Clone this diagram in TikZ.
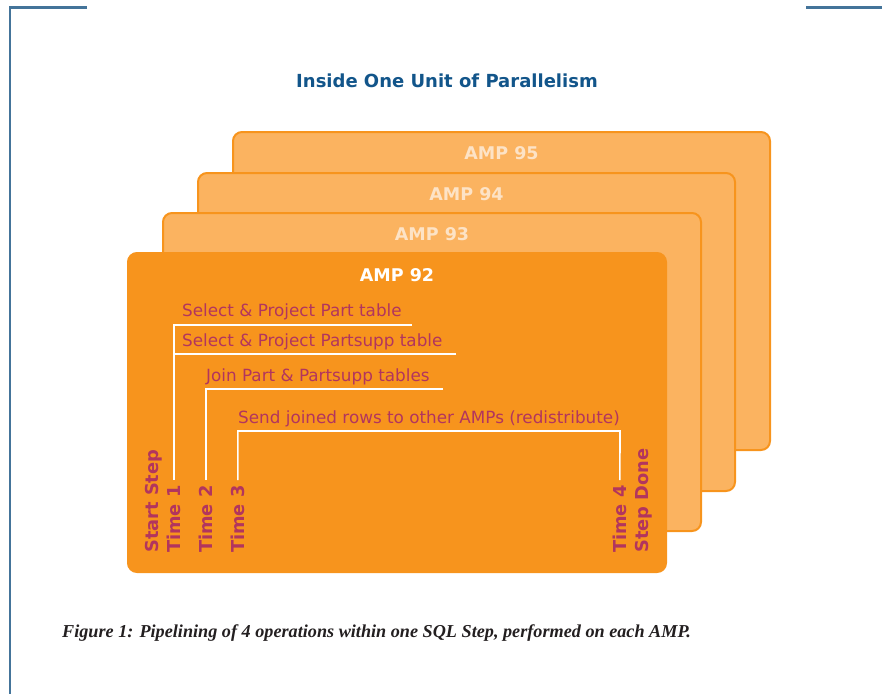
\documentclass[tikz,border=0pt]{standalone}
\usepackage{fontspec}
\setmainfont{DejaVu Sans}
\newfontfamily\captionserif{Liberation Serif}
\usetikzlibrary{calc}

\definecolor{frameblue}{HTML}{44749A}
\definecolor{titleblue}{HTML}{12558A}
\definecolor{ampdark}{HTML}{F7941D}
\definecolor{amplight}{HTML}{FBB360}
\definecolor{amppale}{HTML}{FDE3C6}
\definecolor{opred}{HTML}{B2355E}
\definecolor{captiongray}{HTML}{231F20}

\tikzset{
  frameline/.style={draw=frameblue, line width=2.6pt},
  backcard/.style={rectangle, rounded corners=9pt, draw=ampdark, line width=2pt,
    fill=amplight, inner sep=0pt, anchor=north west},
  frontcard/.style={backcard, fill=ampdark},
  amplabel/.style={font=\bfseries\fontsize{17.5}{20}\selectfont, text=amppale, inner sep=0pt},
  frontlabel/.style={amplabel, text=white},
  oplabel/.style={font=\fontsize{16.8}{19}\selectfont, text=opred, anchor=base west, inner sep=0pt},
  timelabel/.style={font=\bfseries\fontsize{17.8}{20}\selectfont, text=opred, rotate=90,
    anchor=base west, inner sep=0pt},
  pipe/.style={draw=white, line width=1.6pt},
}

\begin{document}
\begin{tikzpicture}[x=1pt, y=-1pt]
\useasboundingbox (0,0) rectangle (882,694);

% page frame corners
\draw[frameline] (87,7.3) -- (10,7.3) -- (10,694);
\draw[frameline] (806,7.3) -- (882,7.3);

% title
\node[font=\bfseries\fontsize{18}{21}\selectfont, text=titleblue] (title) at (447,81)
  {Inside One Unit of Parallelism};

% stack of AMP cards, back to front
\node[backcard, minimum width=537pt, minimum height=318pt] (amp95) at (232,131) {};
\node[amplabel] (lab95) at ($(amp95.north)+(0,22)$) {AMP 95};
\node[backcard, minimum width=537pt, minimum height=318pt] (amp94) at (197,172) {};
\node[amplabel] (lab94) at ($(amp94.north)+(0,22)$) {AMP 94};
\node[backcard, minimum width=538pt, minimum height=318pt] (amp93) at (162,212) {};
\node[amplabel] (lab93) at ($(amp93.north)+(0,22)$) {AMP 93};
\node[frontcard, minimum width=538pt, minimum height=319pt] (amp92) at (127,252) {};
\node[frontlabel] (lab92) at ($(amp92.north)+(0,23)$) {AMP 92};

% operations
\node[oplabel] (op1) at (182,316.5) {Select \& Project Part table};
\node[oplabel] (op2) at (182,346.5) {Select \& Project Partsupp table};
\node[oplabel] (op3) at (206,381.5) {Join Part \& Partsupp tables};
\node[oplabel] (op4) at (238,423.5) {Send joined rows to other AMPs (redistribute)};

% time marks
\node[timelabel] (start) at (158.5,553) {Start Step};
\node[timelabel] (time1) at (180.5,553) {Time 1};
\node[timelabel] (time2) at (212.5,553) {Time 2};
\node[timelabel] (time3) at (244.5,553) {Time 3};
\node[timelabel] (time4) at (626.5,553) {Time 4};
\node[timelabel] (done)  at (648,553) {Step Done};

% ends of the underlines
\coordinate (u1) at (412,325);
\coordinate (u2) at (456,354);
\coordinate (u3) at (443,389);
\coordinate (u4) at (620,431);

% pipeline brackets
\draw[pipe] (u1) -| ($(time1.east)+(0,-5)$);
\draw[pipe] (u2) -| ($(time1.east)+(0,-5)$);
\draw[pipe] (u3) -| ($(time2.east)+(0,-5)$);
\draw[pipe] ($(time3.east)+(0,-5)$) |- (u4) -- ($(time4.east)+(0,-5)$);

% caption
\node[font=\captionserif\bfseries\itshape\fontsize{18.2}{21}\selectfont, text=captiongray,
  anchor=base west, inner sep=0pt] (caption) at (62,637)
  {Figure 1: Pipelining of 4 operations within one SQL Step, performed on each AMP.};
\end{tikzpicture}
\end{document}
